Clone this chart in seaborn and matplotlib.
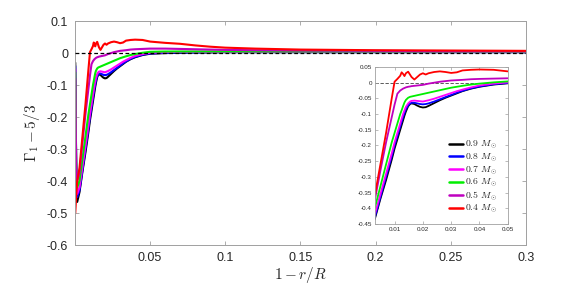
import numpy as np
import pandas as pd
import seaborn as sns
import matplotlib
matplotlib.use("Agg")
import matplotlib.pyplot as plt

# shared radial grid (1 - r/R)
depth = [0.0002, 0.0008, 0.0015, 0.003, 0.005, 0.007, 0.009, 0.010, 0.011, 0.012,
         0.0125, 0.013, 0.0135, 0.014, 0.0148, 0.0155, 0.016, 0.017, 0.018, 0.019,
         0.020, 0.021, 0.022, 0.024, 0.026, 0.028, 0.030, 0.032, 0.034, 0.037,
         0.040, 0.045, 0.050, 0.06, 0.07, 0.08, 0.09, 0.10, 0.12, 0.15,
         0.20, 0.25, 0.30]

g_09 = [-0.03, -0.35, -0.465, -0.435, -0.37, -0.31, -0.245, -0.21, -0.18, -0.15,
        -0.135, -0.12, -0.105, -0.092, -0.075, -0.068, -0.066, -0.068, -0.073, -0.077,
        -0.079, -0.078, -0.074, -0.065, -0.056, -0.048, -0.041, -0.034, -0.027, -0.019,
        -0.013, -0.006, -0.002, 0.0, 0.001, 0.002, 0.002, 0.003, 0.003, 0.003,
        0.003, 0.003, 0.003]
g_08 = [-0.04, -0.34, -0.45, -0.43, -0.365, -0.30, -0.235, -0.20, -0.17, -0.14,
        -0.125, -0.11, -0.097, -0.085, -0.072, -0.066, -0.064, -0.064, -0.066, -0.068,
        -0.069, -0.068, -0.066, -0.060, -0.053, -0.046, -0.039, -0.032, -0.026, -0.018,
        -0.012, -0.005, -0.001, 0.001, 0.002, 0.002, 0.003, 0.003, 0.003, 0.003,
        0.003, 0.003, 0.003]
g_07 = [-0.05, -0.35, -0.44, -0.42, -0.355, -0.29, -0.225, -0.19, -0.16, -0.13,
        -0.115, -0.10, -0.088, -0.077, -0.066, -0.060, -0.058, -0.057, -0.058, -0.059,
        -0.060, -0.058, -0.056, -0.051, -0.045, -0.039, -0.033, -0.027, -0.022, -0.015,
        -0.009, -0.003, 0.001, 0.003, 0.004, 0.004, 0.004, 0.004, 0.004, 0.004,
        0.004, 0.004, 0.004]
g_06 = [-0.06, -0.33, -0.42, -0.40, -0.33, -0.26, -0.19, -0.16, -0.13, -0.10,
        -0.088, -0.075, -0.063, -0.055, -0.048, -0.045, -0.044, -0.042, -0.040, -0.038,
        -0.036, -0.034, -0.032, -0.028, -0.024, -0.020, -0.016, -0.013, -0.010, -0.006,
        -0.003, 0.001, 0.004, 0.005, 0.005, 0.005, 0.005, 0.005, 0.005, 0.005,
        0.005, 0.005, 0.005]
g_05 = [-0.08, -0.35, -0.40, -0.375, -0.28, -0.19, -0.11, -0.07, -0.035, -0.025,
        -0.022, -0.019, -0.017, -0.015, -0.013, -0.012, -0.011, -0.010, -0.009, -0.008,
        -0.007, -0.005, -0.003, 0.0, 0.003, 0.005, 0.007, 0.008, 0.009, 0.011,
        0.012, 0.013, 0.014, 0.014, 0.013, 0.012, 0.011, 0.010, 0.009, 0.008,
        0.007, 0.006, 0.006]
g_04 = [-0.50, -0.45, -0.40, -0.36, -0.26, -0.16, -0.05, 0.003, 0.012, 0.022,
        0.033, 0.028, 0.021, 0.030, 0.035, 0.025, 0.018, 0.010, 0.018, 0.026,
        0.030, 0.026, 0.030, 0.034, 0.036, 0.034, 0.031, 0.033, 0.039, 0.041,
        0.042, 0.041, 0.036, 0.032, 0.029, 0.024, 0.020, 0.017, 0.014, 0.011,
        0.009, 0.008, 0.007]

masses = [r"$0.9\ M_\odot$", r"$0.8\ M_\odot$", r"$0.7\ M_\odot$",
          r"$0.6\ M_\odot$", r"$0.5\ M_\odot$", r"$0.4\ M_\odot$"]
colors = ["#000000", "#0000ff", "#ff00ff", "#00ee00", "#bf00bf", "#ff0000"]

series = [g_09, g_08, g_07, g_06, g_05, g_04]
df = pd.concat([pd.DataFrame({"x": depth, "y": s, "mass": m})
                for s, m in zip(series, masses)], ignore_index=True)

sns.set_style("ticks")
plt.rcParams["mathtext.fontset"] = "cm"
plt.rcParams["font.family"] = ["Liberation Sans", "DejaVu Sans"]
spine_col = "#a0a0a0"

fig = plt.figure(figsize=(5.81, 2.85), dpi=100)
ax = fig.add_axes([0.129, 0.140, 0.776, 0.786])
sns.lineplot(data=df, x="x", y="y", hue="mass", palette=colors, hue_order=masses,
             linewidth=1.5, legend=False, ax=ax, sort=False)
ax.axhline(0, color="black", linestyle="--", linewidth=0.9, dashes=(3, 2), zorder=5)
ax.set_xlim(0, 0.3)
ax.set_ylim(-0.6, 0.1)
ax.set_xticks([0.05, 0.1, 0.15, 0.2, 0.25, 0.3])
ax.set_xticklabels(["0.05", "0.1", "0.15", "0.2", "0.25", "0.3"])
ax.set_yticks(np.round(np.arange(-0.6, 0.11, 0.1), 1))
ax.set_yticklabels(["-0.6", "-0.5", "-0.4", "-0.3", "-0.2", "-0.1", "0", "0.1"])
ax.tick_params(direction="in", top=True, right=True, length=3, width=0.6,
               color=spine_col, labelsize=9, labelcolor="#262626", pad=5)
for sp in ax.spines.values():
    sp.set_visible(True)
    sp.set_color(spine_col)
    sp.set_linewidth(0.7)
ax.set_xlabel(r"$1 - r/R$", fontsize=11, color="#262626", labelpad=1)
ax.set_ylabel(r"$\Gamma_1 - 5/3$", fontsize=11, color="#262626", labelpad=3)

# inset zoom
ins = fig.add_axes([0.645, 0.214, 0.229, 0.551])
sub = df[(df["x"] >= 0.003) & (df["x"] <= 0.05)]
sns.lineplot(data=sub, x="x", y="y", hue="mass", palette=colors, hue_order=masses,
             linewidth=1.3, ax=ins, sort=False)
ins.axhline(0, color="#404040", linestyle="--", linewidth=0.6, dashes=(4, 2), zorder=0)
ins.set_xlim(0.003, 0.05)
ins.set_ylim(-0.45, 0.05)
ins.set_xticks([0.01, 0.02, 0.03, 0.04, 0.05])
ins.set_xticklabels(["0.01", "0.02", "0.03", "0.04", "0.05"])
ins.set_yticks(np.round(np.arange(-0.45, 0.051, 0.05), 2))
ins.set_yticklabels(["-0.45", "-0.4", "-0.35", "-0.3", "-0.25", "-0.2", "-0.15",
                     "-0.1", "-0.05", "0", "0.05"])
ins.tick_params(direction="in", top=True, right=True, length=2, width=0.5,
                color=spine_col, labelsize=4.5, labelcolor="#262626", pad=2)
for sp in ins.spines.values():
    sp.set_visible(True)
    sp.set_color(spine_col)
    sp.set_linewidth(0.6)
ins.set_xlabel("")
ins.set_ylabel("")
leg = ins.legend(loc="lower left", bbox_to_anchor=(0.56, 0.055), frameon=False,
                 fontsize=7, handlelength=1.4, handletextpad=0.2,
                 labelspacing=0.04, borderpad=0, borderaxespad=0)
for h in leg.get_lines():
    h.set_linewidth(1.8)

fig.savefig("out.png", dpi=100)
